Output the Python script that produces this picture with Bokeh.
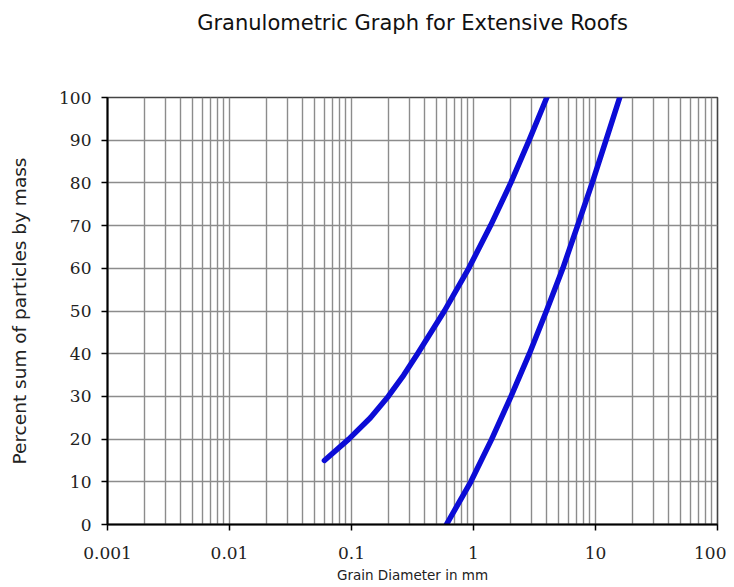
from bokeh.plotting import figure
from bokeh.models import Range1d, FixedTicker, CustomJSTickFormatter, Title
from bokeh.embed import file_html
from bokeh.resources import INLINE

# Fine substrate curve (grain diameter mm, percent passing)
fine_d = [0.06, 0.095, 0.143, 0.2, 0.268, 0.348, 0.577, 0.914, 1.38, 2.02, 2.86, 3.99]
fine_p = [15, 20, 25, 30, 35, 40, 50, 60, 70, 80, 90, 100]

# Coarse substrate curve
coarse_d = [0.6, 0.95, 1.41, 2.03, 2.87, 3.96, 5.4, 7.13, 9.4, 12.2, 15.8]
coarse_p = [0, 10, 20, 30, 40, 50, 60, 70, 80, 90, 100]

x_ticks = [0.001, 0.01, 0.1, 1, 10, 100]
y_ticks = [0, 10, 20, 30, 40, 50, 60, 70, 80, 90, 100]
x_grid = [m * d for d in [0.001, 0.01, 0.1, 1, 10] for m in range(1, 11)]
title_text = "Granulometric Graph for Extensive Roofs"

p = figure(width=726, height=587, x_axis_type="log",
           x_range=Range1d(0.001, 100), y_range=Range1d(0, 100),
           output_backend="svg", toolbar_location=None,
           min_border_left=107, min_border_right=9,
           min_border_top=97, min_border_bottom=63)
p.title.visible = False

# spacer (closest to the frame) then the real title above it
spacer = Title(text=" ", text_font_size="1px", standoff=48)
p.add_layout(spacer, "above")
main_title = Title(text=title_text, text_font="DejaVu Sans",
                   text_font_size="21px", text_font_style="normal",
                   text_color="#111111", align="center",
                   vertical_align="top", standoff=20)
p.add_layout(main_title, "above")

# grids
p.xgrid.ticker = FixedTicker(ticks=x_grid)
p.ygrid.ticker = FixedTicker(ticks=y_ticks)
for g in (p.xgrid, p.ygrid):
    g.grid_line_color = "#8c8c8c"
    g.grid_line_width = 1.4
    g.minor_grid_line_color = None

p.outline_line_color = "#444444"
p.outline_line_width = 1.6
p.background_fill_color = "white"
p.border_fill_color = "white"

# axes
p.xaxis.ticker = FixedTicker(ticks=x_ticks)
p.xaxis.formatter = CustomJSTickFormatter(code="return tick.toString();")
p.yaxis.ticker = FixedTicker(ticks=y_ticks)
for ax in (p.xaxis, p.yaxis):
    ax.axis_line_color = "black"
    ax.axis_line_width = 2
    ax.major_tick_line_color = "black"
    ax.major_tick_line_width = 1.5
    ax.major_tick_in = 0
    ax.major_tick_out = 6
    ax.minor_tick_line_color = None
    ax.major_label_text_font = "DejaVu Serif"
    ax.major_label_text_font_size = "17px"
    ax.major_label_text_color = "#222222"
    ax.axis_label_text_font = "DejaVu Sans"
    ax.axis_label_text_font_style = "normal"
    ax.axis_label_text_color = "#222222"

p.xaxis.major_label_standoff = 16
p.yaxis.major_label_standoff = 10
p.xaxis.axis_label = "Grain Diameter in mm"
p.xaxis.axis_label_text_font_size = "13.5px"
p.xaxis.axis_label_standoff = 5
p.yaxis.axis_label = "Percent sum of particles by mass"
p.yaxis.axis_label_text_font_size = "18.5px"
p.yaxis.axis_label_standoff = 26

blue = "#0c0cd6"
p.line(fine_d, fine_p, line_color=blue, line_width=5.5,
       line_cap="round", line_join="round")
p.line(coarse_d, coarse_p, line_color=blue, line_width=5.5,
       line_cap="round", line_join="round")

open("out.html", "w").write(file_html(p, INLINE))
